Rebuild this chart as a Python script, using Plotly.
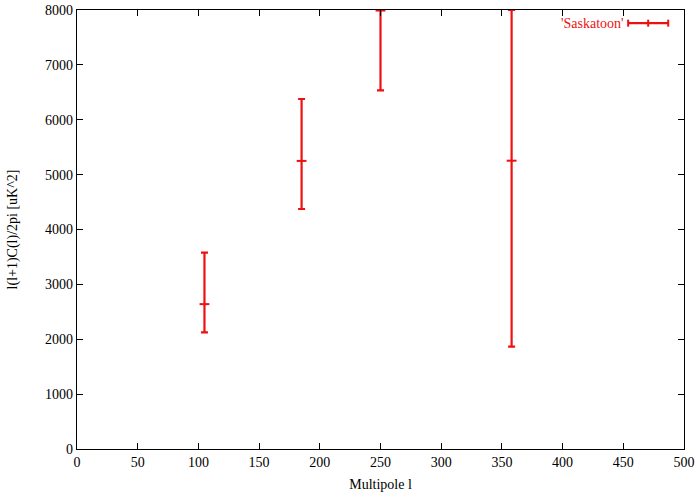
import plotly.graph_objects as go

# Data
multipole = [105, 185, 250, 358]
power = [2640, 5250, 7990, 5254]
err_plus = [937, 1128, 10, 2746]
err_minus = [514, 876, 1456, 3390]

x_ticks = [0, 50, 100, 150, 200, 250, 300, 350, 400, 450, 500]
y_ticks = [0, 1000, 2000, 3000, 4000, 5000, 6000, 7000, 8000]

RED = "#ee1111"
FONT = "Liberation Serif, Times New Roman, serif"

fig = go.Figure()
fig.add_trace(go.Scatter(
    x=multipole, y=power, mode="markers", name="'Saskatoon'",
    marker=dict(symbol="line-ew", size=7, line=dict(color=RED, width=2), color=RED),
    error_y=dict(type="data", symmetric=False, array=err_plus, arrayminus=err_minus,
                 color=RED, thickness=2.2, width=3.5),
    showlegend=False, cliponaxis=True,
))

# legend key (gnuplot style: label left of the sample)
ky = 0.97
fig.add_annotation(x=0.905, y=ky, xref="paper", yref="paper", text="'Saskatoon'",
                   showarrow=False, xanchor="right", yanchor="middle",
                   font=dict(family=FONT, size=14, color=RED))
fig.add_shape(type="line", xref="paper", yref="paper", x0=0.908, x1=0.974, y0=ky, y1=ky,
              line=dict(color=RED, width=2.2))
for xx in [0.908, 0.941, 0.974]:
    fig.add_shape(type="line", xref="paper", yref="paper", x0=xx, x1=xx, y0=ky - 0.008, y1=ky + 0.008,
                  line=dict(color=RED, width=2))

fig.update_layout(
    width=700, height=497,
    margin=dict(l=77, r=16, t=10, b=48, autoexpand=False),
    paper_bgcolor="white", plot_bgcolor="white",
    font=dict(family=FONT, size=14, color="black"),
)
fig.update_xaxes(range=[0, 500], tickvals=x_ticks, ticks="inside", ticklen=6, tickcolor="black",
                 showline=True, linecolor="black", linewidth=1.2, mirror="ticks", showgrid=False,
                 zeroline=False, title=dict(text="Multipole l", standoff=10, font=dict(size=14)),
                 tickfont=dict(family=FONT, size=14), automargin=False)
fig.update_yaxes(range=[0, 8000], tickvals=y_ticks, ticks="inside", ticklen=6, tickcolor="black",
                 showline=True, linecolor="black", linewidth=1.2, mirror="ticks", showgrid=False,
                 zeroline=False, title=dict(text="l(l+1)C(l)/2pi [uK^2]", standoff=24, font=dict(size=14)),
                 tickfont=dict(family=FONT, size=14), automargin=False)

fig.write_html("out.html", config={"displayModeBar": False},
               post_script="document.body.style.margin='0';")
